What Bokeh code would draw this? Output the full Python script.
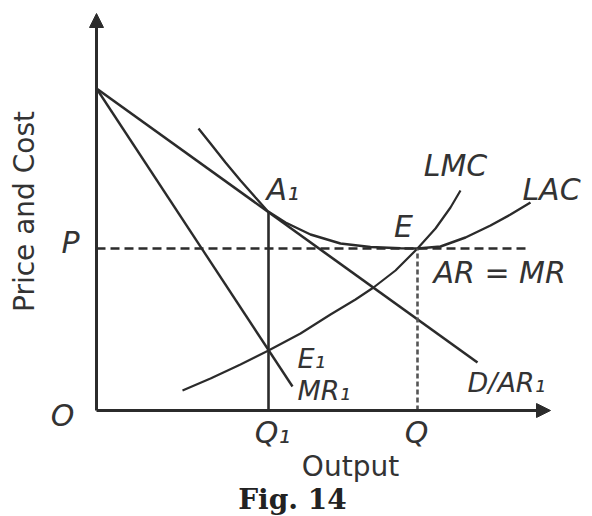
import math
from bokeh.plotting import figure
from bokeh.models import Range1d, Arrow, NormalHead
from bokeh.core.properties import value
from bokeh.embed import file_html
from bokeh.resources import INLINE

# ---- data (output on x, price/cost on y; diagram units) ----
dar_q = [0, 381]
dar_p = [322, 48]

mr1_q = [0, 196]
mr1_p = [322, 24]

lac_q = [102, 114, 129, 144, 159, 171, 189, 214, 244, 274, 304, 321, 344, 369, 394, 414, 434]
lac_p = [282, 267, 248, 230, 213, 199.5, 188, 176, 167, 163.5, 162.3, 162, 164, 173, 185, 196, 208]

lmc_q = [86, 114, 144, 172, 204, 234, 259, 277, 299, 321, 339, 354, 364]
lmc_p = [20, 32, 46, 60, 77, 96, 111, 123, 140, 162, 182, 203, 220]

q1 = 172
a1_p = 199.5
q_e = 321
p_e = 162
p_line_end = 434
x_axis_end = 454
y_axis_end = 397

# labels
ital_text = ["P", "O", "Q\u2081", "Q", "LMC", "LAC", "E", "AR = MR", "A\u2081"]
ital_x = [-26, -34, 176, 320, 359, 455, 307, 337, 170]
ital_y = [168, -5, -22, -22, 245, 221, 184, 138, 221]
ital_align = ["center", "center", "center", "center", "center", "center", "center", "left", "left"]

small_text = ["E\u2081", "MR\u2081", "D/AR\u2081"]
small_x = [201, 201, 371]
small_y = [52, 20, 28]

axis_text = ["Price and Cost", "Output"]
axis_x = [-72, 254]
axis_y = [199, -56]
axis_angle = [math.pi / 2, 0]

fig_text = ["Fig. 14"]
fig_x = [196]
fig_y = [-89]

LINE = "#2b2b2b"
TXT = "#333333"

p = figure(width=592, height=516, x_range=Range1d(-96, 496), y_range=Range1d(-106, 410),
           output_backend="svg", toolbar_location=None, min_border=0,
           x_axis_type=None, y_axis_type=None)
p.grid.visible = False
p.outline_line_color = None
p.background_fill_color = "white"
p.border_fill_color = "white"

# axes with arrowheads
p.add_layout(Arrow(end=NormalHead(size=14, fill_color=LINE, line_color=LINE),
                   x_start=0, y_start=0, x_end=x_axis_end, y_end=0,
                   line_width=3, line_color=LINE))
p.add_layout(Arrow(end=NormalHead(size=14, fill_color=LINE, line_color=LINE),
                   x_start=0, y_start=0, x_end=0, y_end=y_axis_end,
                   line_width=3, line_color=LINE))

# curves
p.line(dar_q, dar_p, line_width=2.6, line_color=LINE)
p.line(mr1_q, mr1_p, line_width=2.4, line_color=LINE)
p.line(lac_q, lac_p, line_width=2.4, line_color=LINE)
p.line(lmc_q, lmc_p, line_width=2.2, line_color=LINE)

# verticals and price line
p.line([q1, q1], [0, a1_p], line_width=2.6, line_color=LINE)
p.line([q_e, q_e], [0, p_e], line_width=2.6, line_color="#555555", line_dash="5 3")
p.line([0, p_line_end], [p_e, p_e], line_width=2.4, line_color=LINE, line_dash="9 5")

# texts
p.text(x=ital_x, y=ital_y, text=ital_text, text_align=ital_align, text_baseline="middle",
       text_font=value("DejaVu Sans"), text_font_style="italic", text_font_size="30px",
       text_color=TXT)
p.text(x=small_x, y=small_y, text=small_text, text_align="left", text_baseline="middle",
       text_font=value("DejaVu Sans"), text_font_style="italic", text_font_size="27px",
       text_color=TXT)
p.text(x=axis_x, y=axis_y, text=axis_text, angle=axis_angle, text_align="center",
       text_baseline="middle", text_font=value("DejaVu Sans"), text_font_size="28px",
       text_color=TXT)
p.text(x=fig_x, y=fig_y, text=fig_text, text_align="center", text_baseline="middle",
       text_font=value("DejaVu Serif"), text_font_style="bold", text_font_size="28px",
       text_color="#222222")

open("out.html", "w").write(file_html(p, INLINE))
